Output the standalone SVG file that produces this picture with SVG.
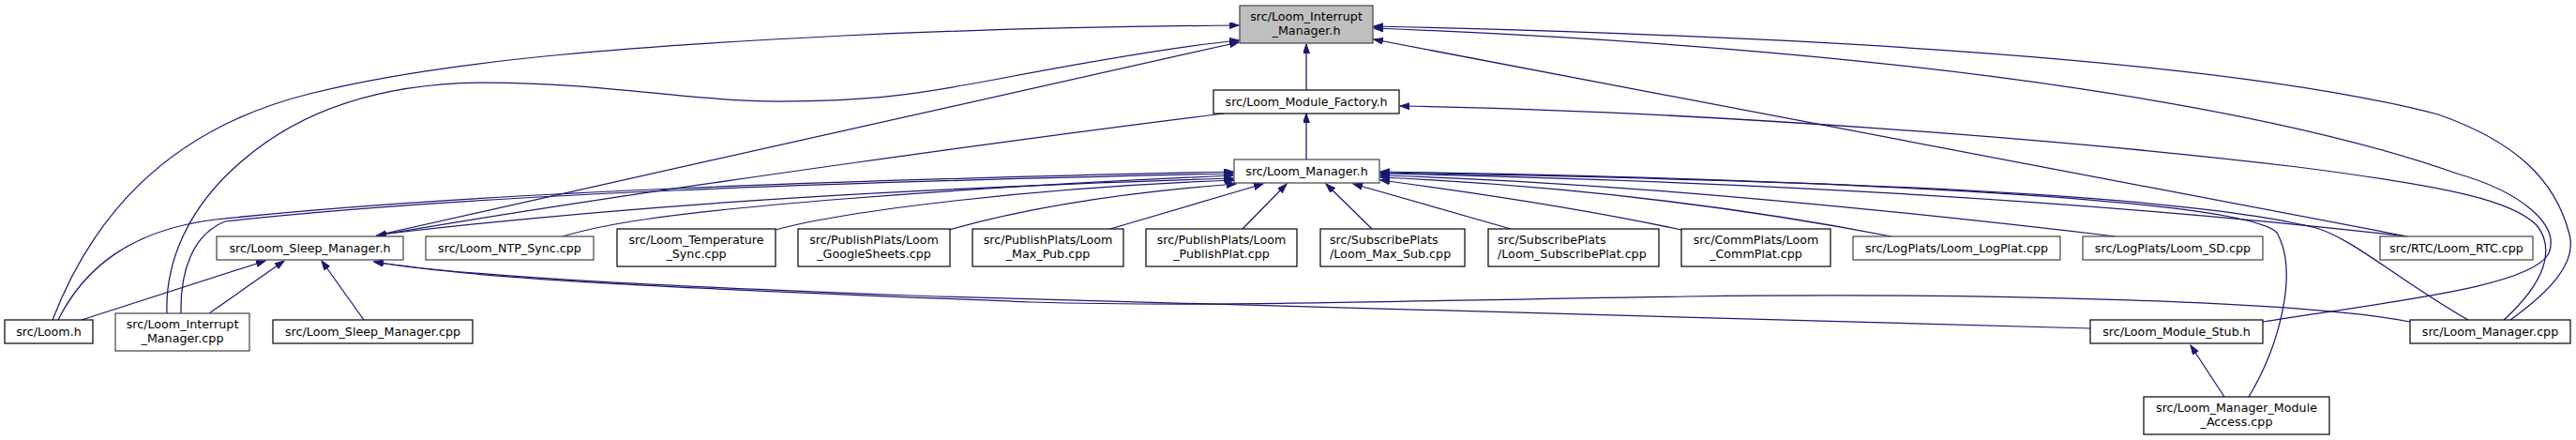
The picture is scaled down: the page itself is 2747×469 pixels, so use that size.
<svg xmlns="http://www.w3.org/2000/svg" width="2747" height="469" viewBox="0 0 2747 469">
<style>
.n rect{fill:#ffffff;stroke:#000000;stroke-width:1.2}
.n.g rect{stroke:#404040}
.n.root rect{fill:#bfbfbf;stroke:#404040}
.n text{font-family:"DejaVu Sans","Liberation Sans",sans-serif;font-size:12.7px;fill:#000000;text-anchor:middle}
.n text.l{text-anchor:start}
#edges path{fill:none;stroke:#191970;stroke-width:1.25;marker-end:url(#ah)}
</style>
<defs>
<marker id="ah" markerWidth="12" markerHeight="9" refX="10" refY="3.5" orient="auto" markerUnits="userSpaceOnUse">
<path d="M0,0 L10,3.5 L0,7 z" fill="#191970" stroke="#191970" stroke-width="1"/>
</marker>
</defs>
<rect x="0" y="0" width="2747" height="469" fill="#ffffff"/>
<g id="edges">
<path d="M1393,96 L1393,47"/>
<path d="M1393,170 L1393,121"/>
<path d="M56,341 C95,240 170,140 330,100 C480,62 700,48 900,38 C1050,31 1200,28 1321,27"/>
<path d="M178,334 C176,280 200,220 260,170 C330,110 420,88 520,88 C640,88 740,108 830,108 C930,108 980,100 1060,85 C1160,66 1250,50 1321,43"/>
<path d="M401,251 L1321,45"/>
<path d="M1305,121 C1150,140 700,200 402,251"/>
<path d="M405,250 C700,215 1000,200 1315,190"/>
<path d="M62,341 C90,285 140,245 230,234 C500,205 900,192 1315,183"/>
<path d="M193,334 C192,290 205,250 240,236 C500,207 900,194 1315,185"/>
<path d="M600,252 C640,240 700,228 900,212 C1050,200 1200,192 1315,187"/>
<path d="M827,245 C900,225 1100,200 1316,192"/>
<path d="M1012,245 C1100,220 1200,205 1318,196"/>
<path d="M1184,244 L1347,196"/>
<path d="M1325,244 L1372,196"/>
<path d="M1463,244 L1414,196"/>
<path d="M1611,244 L1443,196"/>
<path d="M1793,245 C1700,225 1570,205 1472,192"/>
<path d="M2017,252 C1800,210 1600,195 1472,189"/>
<path d="M2256,252 C1900,210 1650,192 1472,187"/>
<path d="M2567,252 C2200,210 1800,192 1472,185"/>
<path d="M2567,252 L1465,42"/>
<path d="M2632,341 C2560,300 2510,255 2470,243 C2300,200 1800,190 1472,184"/>
<path d="M2398,423 C2430,370 2452,290 2428,248 C2390,210 1900,190 1472,183"/>
<path d="M2372,423 L2336,368"/>
<path d="M2229,350 C1700,338 1300,326 1000,316 C700,305 500,295 399,279"/>
<path d="M2570,343 C2450,320 2100,312 1800,316 C1500,320 1300,328 1100,322 C800,310 520,300 399,279"/>
<path d="M2677,341 C2720,310 2748,280 2740,250 C2725,190 2680,150 2600,122 C2400,70 2000,40 1465,28"/>
<path d="M2413,343 C2560,320 2700,305 2718,270 C2730,240 2690,205 2620,185 C2450,125 2100,55 1465,30"/>
<path d="M2670,341 C2715,300 2725,265 2705,240 C2680,215 2620,200 2450,178 C2200,148 1800,118 1493,113"/>
<path d="M388,341 L343,278"/>
<path d="M87,341 L283,278"/>
<path d="M223,334 L303,278"/>
</g>
<g id="n_imh" class="n root"><rect x="1322" y="6" width="142" height="40"/><text x="1393" y="22">src/Loom_Interrupt</text><text x="1393" y="37">_Manager.h</text></g>
<g id="n_fac" class="n"><rect x="1294" y="96" width="198" height="25"/><text x="1393" y="113">src/Loom_Module_Factory.h</text></g>
<g id="n_mgr" class="n g"><rect x="1316" y="170" width="155" height="25"/><text x="1393.5" y="187">src/Loom_Manager.h</text></g>
<g id="n_slp" class="n g"><rect x="231" y="252" width="199" height="25"/><text x="330.5" y="269">src/Loom_Sleep_Manager.h</text></g>
<g id="n_ntp" class="n g"><rect x="454" y="252" width="179" height="25"/><text x="543.5" y="269">src/Loom_NTP_Sync.cpp</text></g>
<g id="n_tmp" class="n"><rect x="658" y="244" width="169" height="40"/><text x="742.5" y="260">src/Loom_Temperature</text><text x="742.5" y="275">_Sync.cpp</text></g>
<g id="n_gs" class="n"><rect x="851" y="244" width="162" height="40"/><text x="932" y="260">src/PublishPlats/Loom</text><text x="932" y="275">_GoogleSheets.cpp</text></g>
<g id="n_mp" class="n"><rect x="1037" y="244" width="161" height="40"/><text x="1117.5" y="260">src/PublishPlats/Loom</text><text x="1117.5" y="275">_Max_Pub.cpp</text></g>
<g id="n_pp" class="n"><rect x="1222" y="244" width="161" height="40"/><text x="1302.5" y="260">src/PublishPlats/Loom</text><text x="1302.5" y="275">_PublishPlat.cpp</text></g>
<g id="n_ms" class="n"><rect x="1408" y="244" width="154" height="40"/><text class="l" x="1418" y="260">src/SubscribePlats</text><text class="l" x="1418" y="275">/Loom_Max_Sub.cpp</text></g>
<g id="n_sp" class="n"><rect x="1587" y="244" width="182" height="40"/><text class="l" x="1597" y="260">src/SubscribePlats</text><text class="l" x="1597" y="275">/Loom_SubscribePlat.cpp</text></g>
<g id="n_cp" class="n"><rect x="1793" y="244" width="159" height="40"/><text x="1872.5" y="260">src/CommPlats/Loom</text><text x="1872.5" y="275">_CommPlat.cpp</text></g>
<g id="n_lp" class="n g"><rect x="1976" y="252" width="221" height="25"/><text x="2086.5" y="269">src/LogPlats/Loom_LogPlat.cpp</text></g>
<g id="n_sd" class="n g"><rect x="2221" y="252" width="192" height="25"/><text x="2317" y="269">src/LogPlats/Loom_SD.cpp</text></g>
<g id="n_rtc" class="n g"><rect x="2538" y="252" width="163" height="25"/><text x="2619.5" y="269">src/RTC/Loom_RTC.cpp</text></g>
<g id="n_loom" class="n"><rect x="5" y="341" width="94" height="25"/><text x="52" y="358">src/Loom.h</text></g>
<g id="n_imc" class="n g"><rect x="123" y="334" width="143" height="40"/><text x="194.5" y="350">src/Loom_Interrupt</text><text x="194.5" y="365">_Manager.cpp</text></g>
<g id="n_slc" class="n"><rect x="291" y="341" width="213" height="25"/><text x="397.5" y="358">src/Loom_Sleep_Manager.cpp</text></g>
<g id="n_stub" class="n"><rect x="2229" y="341" width="184" height="25"/><text x="2321" y="358">src/Loom_Module_Stub.h</text></g>
<g id="n_mcpp" class="n"><rect x="2570" y="341" width="171" height="25"/><text x="2655.5" y="358">src/Loom_Manager.cpp</text></g>
<g id="n_mma" class="n"><rect x="2286" y="423" width="198" height="40"/><text x="2385" y="439">src/Loom_Manager_Module</text><text x="2385" y="454">_Access.cpp</text></g>
</svg>
